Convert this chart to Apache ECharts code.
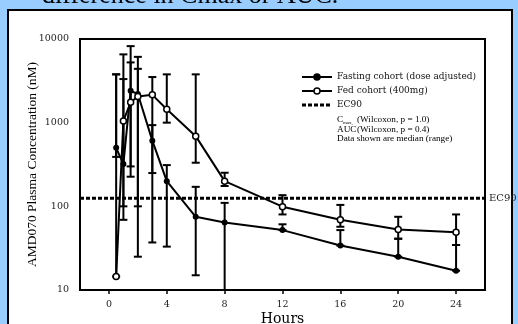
<!DOCTYPE html>
<html>
<head>
<meta charset="utf-8">
<script src="https://cdn.jsdelivr.net/npm/echarts@6/dist/echarts.min.js"></script>
<style>
  html, body { margin: 0; padding: 0; background: #99ccff; }
  #main { width: 518px; height: 324px; }
</style>
</head>
<body>
<div id="main"></div>
<script>
// sampling times (h)
const hours = [0.5, 1, 1.5, 2, 3, 4, 6, 8, 12, 16, 20, 24];

// fasting cohort (dose adjusted): median and range
const fastMedian = [500, 320, 2400, 2200, 610, 200, 75, 64, 52, 34, 25, 17];
const fastLow    = [390, 100, 226, 25, 37, 33, 15, 10, 52, 34, 25, 17];
const fastHigh   = [3780, 3320, 8220, 4400, 935, 311, 171, 110, 61, 52, 41, 34.5];

// fed cohort (400mg): median and range
const fedMedian = [14.5, 1050, 1750, 2050, 2150, 1450, 690, 200, 99, 69, 53, 49];
const fedLow    = [14.5, 69, 300, 100, 250, 1000, 332, 175, 80, 57, 41, 34.5];
const fedHigh   = [3780, 6550, 5250, 6120, 3510, 3780, 3780, 252, 136, 104, 75, 80];

const ec90 = 125;
const xTicks = [0, 4, 8, 12, 16, 20, 24];

const serif = "'Liberation Serif', 'Times New Roman', serif";
const spaced = "'DejaVu Serif', serif";

const chart = echarts.init(document.getElementById('main'));

function errorBars(params, api) {
  const x = api.value(0);
  const lo = api.coord([x, api.value(1)]);
  const hi = api.coord([x, api.value(2)]);
  const half = 4;
  const st = { stroke: '#000', lineWidth: 2 };
  return {
    type: 'group',
    children: [
      { type: 'line', shape: { x1: lo[0], y1: lo[1], x2: hi[0], y2: hi[1] }, style: st },
      { type: 'line', shape: { x1: hi[0] - half, y1: hi[1], x2: hi[0] + half, y2: hi[1] }, style: st },
      { type: 'line', shape: { x1: lo[0] - half, y1: lo[1], x2: lo[0] + half, y2: lo[1] }, style: st }
    ]
  };
}

// legend rows, drawn by hand
const lx = 302, lw = 30, tx = 337;
const legendRows = [
  { y: 77, text: 'Fasting cohort (dose adjusted)', marker: 'fill' },
  { y: 91, text: 'Fed cohort (400mg)', marker: 'open' },
  { y: 105, text: 'EC90', marker: 'dash' }
];
const legendGraphics = [];
legendRows.forEach(r => {
  legendGraphics.push({
    type: 'line', z: 10,
    shape: { x1: lx, y1: r.y, x2: lx + lw, y2: r.y },
    style: r.marker === 'dash'
      ? { stroke: '#000', lineWidth: 3, lineDash: [4, 2] }
      : { stroke: '#000', lineWidth: 2 }
  });
  if (r.marker !== 'dash') {
    legendGraphics.push({
      type: 'circle', z: 11,
      shape: { cx: lx + lw / 2, cy: r.y, r: 3 },
      style: { fill: r.marker === 'fill' ? '#000' : '#fff', stroke: '#000', lineWidth: 1.5 }
    });
  }
  legendGraphics.push({
    type: 'text', z: 10, x: tx, y: r.y,
    style: { text: r.text, font: '9px ' + spaced, fill: '#111', verticalAlign: 'middle' }
  });
});

const note = (text, x, y, size) => ({
  type: 'text', z: 10, x: x, y: y,
  style: { text: text, font: size + 'px ' + serif, fill: '#000', verticalAlign: 'middle' }
});

chart.setOption({
  backgroundColor: '#99ccff',
  animation: false,
  graphic: [
    { type: 'rect', z: -10, shape: { x: 8, y: 10, width: 504, height: 330 },
      style: { fill: '#fff', stroke: '#000', lineWidth: 2 } },
    { type: 'text', z: -5, x: 42, y: 9,
      style: { text: 'difference in Cmax or AUC.', font: '26px ' + serif, fill: '#000', verticalAlign: 'bottom' } },
    ...legendGraphics,
    note('C', 337, 120, 9.2),
    note('max,', 343, 123, 5),
    note('(Wilcoxon, p = 1.0)', 357, 120, 9.2),
    note('AUC', 337, 129.5, 9.2),
    note('(Wilcoxon, p = 0.4)', 357, 129.5, 9.2),
    note('Data shown are median (range)', 337, 139, 9.2)
  ],
  grid: {
    left: 80, right: 33, top: 39, bottom: 34,
    outerBoundsMode: 'none',
    show: true, borderColor: '#000', borderWidth: 2, backgroundColor: 'transparent'
  },
  xAxis: {
    type: 'value', min: -2, max: 26,
    name: 'Hours', nameLocation: 'middle', nameGap: 22, nameMoveOverlap: false,
    nameTextStyle: { fontFamily: spaced, fontSize: 14, color: '#000' },
    axisLine: { show: true, onZero: false, lineStyle: { color: '#000', width: 2 } },
    axisTick: { show: true, customValues: xTicks, length: 4, inside: false, lineStyle: { color: '#000', width: 1.5 } },
    axisLabel: { customValues: xTicks, margin: 10, fontFamily: spaced, fontSize: 9.5, color: '#222' },
    splitLine: { show: false }
  },
  yAxis: {
    type: 'log', logBase: 10, min: 10, max: 10000,
    name: 'AMD070 Plasma Concentration (nM)', nameLocation: 'middle', nameGap: 41, nameRotate: 90,
    nameMoveOverlap: false,
    nameTextStyle: { fontFamily: serif, fontSize: 13.5, color: '#000' },
    axisLine: { show: true, onZero: false, lineStyle: { color: '#000', width: 2 } },
    axisTick: { show: false },
    axisLabel: { margin: 11, fontFamily: spaced, fontSize: 9.5, color: '#222', formatter: v => String(v) },
    splitLine: { show: false },
    minorTick: { show: false }
  },
  series: [
    {
      name: 'EC90', type: 'line', symbol: 'none', z: 1,
      data: [[-2, ec90], [26, ec90]],
      lineStyle: { color: '#000', width: 3, type: [4, 2] },
      endLabel: { show: true, formatter: 'EC90', distance: 4, fontFamily: spaced, fontSize: 10, color: '#222' }
    },
    {
      name: 'fast range', type: 'custom', renderItem: errorBars, clip: true, z: 2,
      encode: { x: 0, y: [1, 2] },
      data: hours.map((h, i) => [h, fastLow[i], fastHigh[i]])
    },
    {
      name: 'fed range', type: 'custom', renderItem: errorBars, clip: true, z: 2,
      encode: { x: 0, y: [1, 2] },
      data: hours.map((h, i) => [h, fedLow[i], fedHigh[i]])
    },
    {
      name: 'Fasting cohort (dose adjusted)', type: 'line', z: 3,
      symbol: 'circle', symbolSize: 6,
      lineStyle: { color: '#000', width: 2 },
      itemStyle: { color: '#000' },
      data: hours.map((h, i) => [h, fastMedian[i]])
    },
    {
      name: 'Fed cohort (400mg)', type: 'line', z: 3,
      symbol: 'circle', symbolSize: 6,
      lineStyle: { color: '#000', width: 2 },
      itemStyle: { color: '#fff', borderColor: '#000', borderWidth: 1.5 },
      data: hours.map((h, i) => [h, fedMedian[i]])
    }
  ]
});
</script>
</body>
</html>
